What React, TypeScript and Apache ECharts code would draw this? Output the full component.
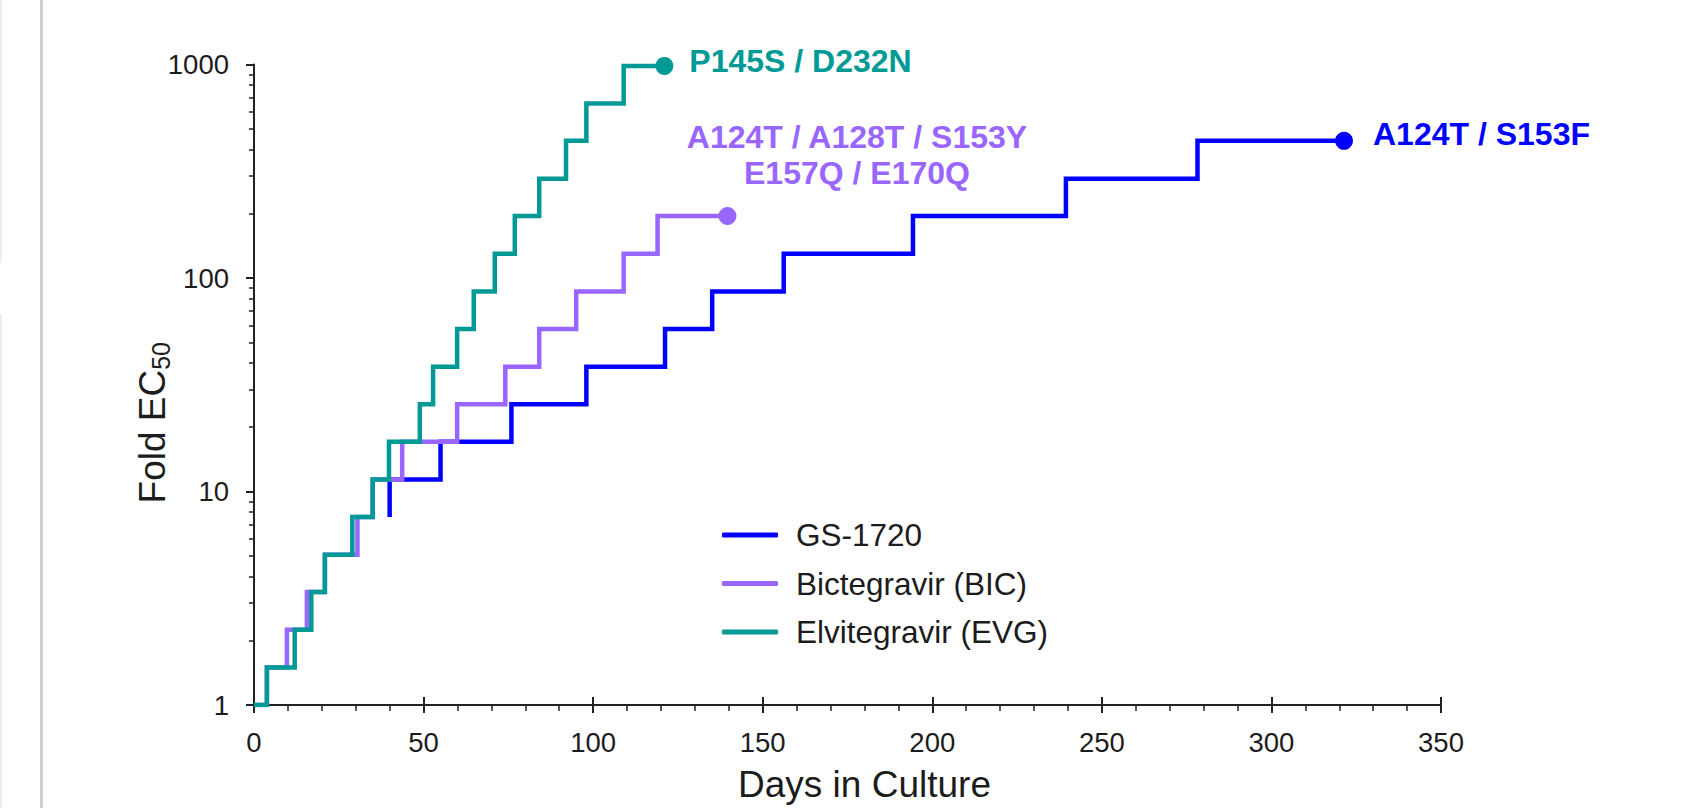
import React, { useEffect, useRef } from "react";
import * as echarts from "echarts";

// ---- data ----
const seriesNames = ["GS-1720", "Bictegravir (BIC)", "Elvitegravir (EVG)"];
const seriesColors = ["#0000FF", "#9966FF", "#009A96"];

const gsDays = [40, 40, 55, 75.9, 98, 121.2, 135.1, 156.2, 194.3, 239.4, 278.2, 321.4];
const gsFold = [7.59, 11.39, 17.09, 25.6, 38.4, 57.7, 86.5, 130, 195, 292, 439, 439];

const bicDays = [0, 3.8, 9.7, 15.6, 20.9, 30.5, 35, 43.7, 59.9, 74.1, 84.1, 95.0, 109, 119, 139.6];
const bicFold = [1, 1.5, 2.25, 3.38, 5.06, 7.59, 11.39, 17.09, 25.6, 38.4, 57.7, 86.5, 130, 195, 195];

const evgDays = [0, 3.8, 12, 16.9, 20.9, 29, 35, 39.8, 48.9, 52.8, 59.9, 64.8, 71, 76.9, 84.1, 92, 98, 109, 121];
const evgFold = [1, 1.5, 2.25, 3.38, 5.06, 7.59, 11.39, 17.09, 25.6, 38.4, 57.7, 86.5, 130, 195, 292, 439, 657, 985, 985];

const endLabels = ["A124T / S153F", "A124T / A128T / S153Y\nE157Q / E170Q", "P145S / D232N"];

const yMajorTicks = [1, 10, 100, 1000];
const yMinorTicks = [2, 3, 4, 5, 6, 7, 8, 9, 20, 30, 40, 50, 60, 70, 80, 90, 200, 300, 400, 500, 600, 700, 800, 900];

const FONT = "'Liberation Sans', Arial, Helvetica, sans-serif";
const INK = "#1c1c1c";

function buildData(days: number[], folds: number[], label: string, color: string, labelExtra: any) {
  return days.map((d, i) => {
    if (i === days.length - 1) {
      return {
        value: [d, folds[i]],
        symbol: "circle",
        symbolSize: 18,
        label: {
          show: true,
          formatter: label,
          position: "right",
          color,
          fontSize: 32,
          fontWeight: "bold",
          fontFamily: FONT,
          ...labelExtra,
        },
      };
    }
    return { value: [d, folds[i]], symbol: "none" };
  });
}

export default function App() {
  const ref = useRef<HTMLDivElement>(null);

  useEffect(() => {
    document.body.style.margin = "0";
    if (!ref.current) return;
    const chart = echarts.init(ref.current, undefined, { renderer: "svg" });

    const days = [gsDays, bicDays, evgDays];
    const folds = [gsFold, bicFold, evgFold];
    const labelExtras = [
      { offset: [15, -6.5] },
      { offset: [115.5, -61.5], align: "center", lineHeight: 36 },
      { offset: [11, -5] },
    ];

    const series = seriesNames.map((name, i) => ({
      type: "line",
      name,
      step: "end",
      xAxisIndex: 0,
      yAxisIndex: 0,
      symbol: "circle",
      symbolSize: 18,
      showSymbol: true,
      showAllSymbol: true,
      data: buildData(days[i], folds[i], endLabels[i], seriesColors[i], labelExtras[i]),
      lineStyle: { width: 4.5, color: seriesColors[i], join: "miter", cap: "butt" },
      itemStyle: { color: seriesColors[i] },
      emphasis: { disabled: true },
      z: 2 + i,
    }));

    const option: any = {
      animation: false,
      backgroundColor: "#ffffff",
      graphic: [
        { type: "rect", left: 40, top: 0, shape: { width: 3, height: 808 }, style: { fill: "#cdd1cd" }, silent: true },
        { type: "rect", left: 0, top: 0, shape: { width: 2, height: 263 }, style: { fill: "#ededed" }, silent: true },
        { type: "rect", left: 0, top: 314, shape: { width: 2, height: 494 }, style: { fill: "#ededed" }, silent: true },
      ],
      grid: { left: 254, right: 244, top: 64.5, bottom: 98.5, containLabel: false },
      legend: {
        orient: "vertical",
        left: 717,
        top: 514,
        itemWidth: 56,
        itemHeight: 5,
        itemGap: 16.5,
        icon: "roundRect",
        selectedMode: false,
        data: seriesNames,
        formatter: (n: string) => "{t|" + n + "}",
        textStyle: {
          color: INK,
          fontFamily: FONT,
          fontSize: 31.5,
          rich: { t: { fontSize: 31.5, fontFamily: FONT, color: INK, lineHeight: 31, padding: [0, 0, 0, 13] } },
        },
      },
      xAxis: [
        {
          type: "value",
          min: 0,
          max: 350,
          interval: 50,
          position: "bottom",
          name: "Days in Culture",
          nameLocation: "middle",
          nameGap: 61,
          nameTextStyle: { fontSize: 37, color: INK, fontFamily: FONT, padding: [0, 0, 0, 34] },
          axisLine: { show: true, onZero: false, lineStyle: { color: "#222", width: 2 } },
          axisTick: { show: true, length: 8, lineStyle: { color: "#222", width: 2 } },
          minorTick: { show: true, splitNumber: 5, length: 6, lineStyle: { color: "#222", width: 1.5 } },
          axisLabel: { fontSize: 27.5, color: INK, fontFamily: FONT, margin: 23 },
          splitLine: { show: false },
          minorSplitLine: { show: false },
        },
        {
          type: "value",
          min: 0,
          max: 350,
          interval: 50,
          position: "bottom",
          axisLine: { show: false, onZero: false },
          axisTick: { show: true, inside: true, length: 8, lineStyle: { color: "#222", width: 2 } },
          axisLabel: { show: false },
          splitLine: { show: false },
        },
      ],
      yAxis: [
        {
          type: "log",
          logBase: 10,
          min: 1,
          max: 1000,
          position: "left",
          name: "{a|Fold EC}{s|50}",
          nameLocation: "middle",
          nameRotate: 90,
          nameGap: 81,
          nameMoveOverlap: false,
          nameTextStyle: {
            padding: [0, 76, 0, 0],
            rich: {
              a: { fontSize: 37, color: INK, fontFamily: FONT },
              s: { fontSize: 25, color: INK, fontFamily: FONT, padding: [16, 0, 0, 0] },
            },
          },
          axisLine: { show: true, onZero: false, lineStyle: { color: "#222", width: 2 } },
          axisTick: { show: true, length: 8, customValues: yMajorTicks, lineStyle: { color: "#222", width: 2 } },
          axisLabel: {
            fontSize: 27.5,
            color: INK,
            fontFamily: FONT,
            margin: 25,
            customValues: yMajorTicks,
            formatter: (v: number) => String(Math.round(v)),
          },
          splitLine: { show: false },
        },
        {
          type: "log",
          logBase: 10,
          min: 1,
          max: 1000,
          position: "left",
          axisLine: { show: false, onZero: false },
          axisTick: { show: true, length: 5, customValues: yMinorTicks, lineStyle: { color: "#222", width: 1.5 } },
          axisLabel: { show: false },
          splitLine: { show: false },
        },
      ],
      series,
    };

    chart.setOption(option);
    return () => chart.dispose();
  }, []);

  return <div ref={ref} style={{ width: 1685, height: 808 }} />;
}
